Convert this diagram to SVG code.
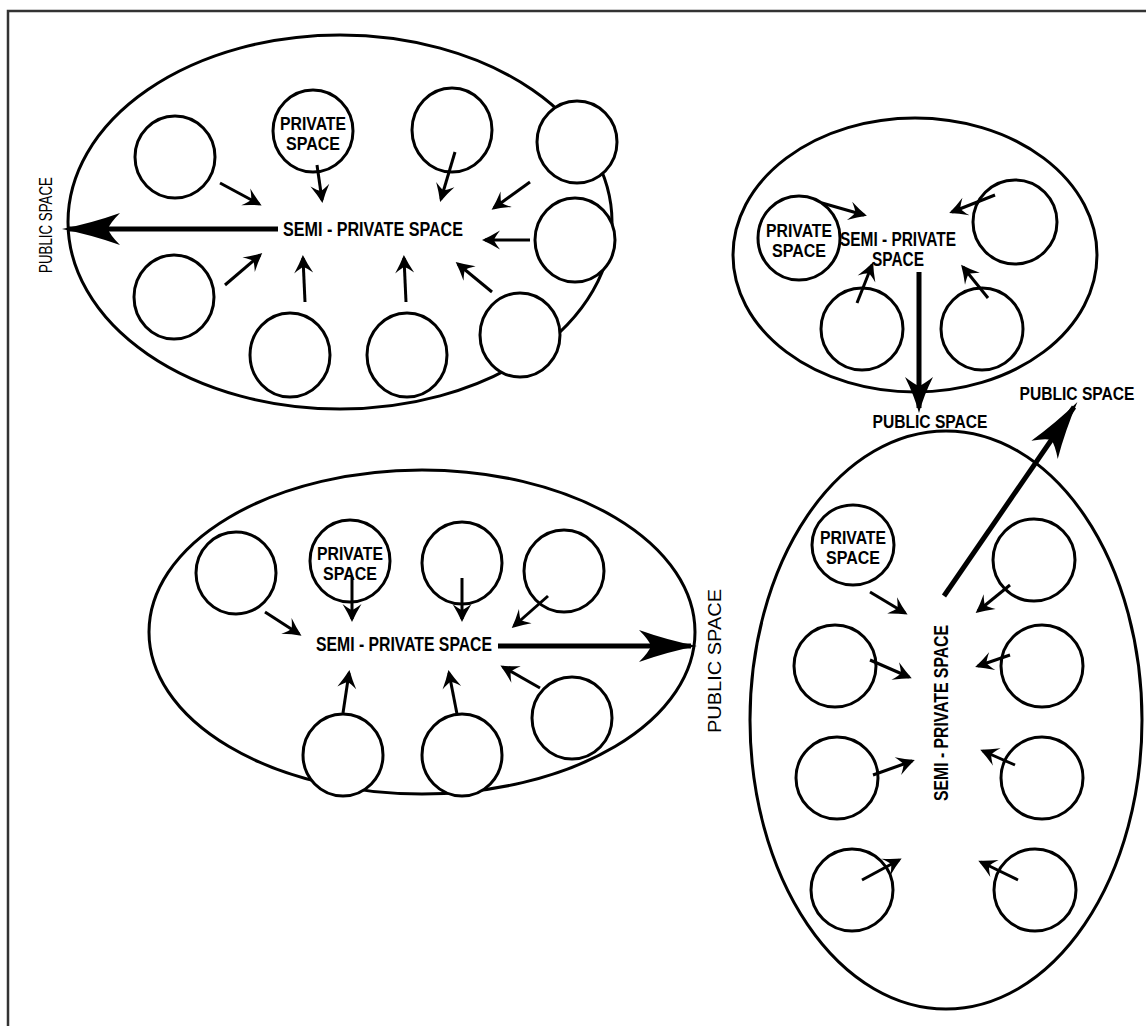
<svg xmlns="http://www.w3.org/2000/svg" width="1146" height="1026" viewBox="0 0 1146 1026">
  <style>
    .zone { fill: none; stroke: #000; stroke-width: 3; }
    .room { fill: #fff; stroke: #000; stroke-width: 3; }
    .flow { fill: none; stroke: #000; stroke-width: 3; marker-end: url(#head); }
    .exit { fill: none; stroke: #000; stroke-width: 5; marker-end: url(#bighead); }
    .exit-m { fill: none; stroke: #000; stroke-width: 5; marker-end: url(#midhead); }
    .lbl { font-family: "Liberation Sans", "DejaVu Sans", sans-serif; font-weight: bold; fill: #000; text-anchor: middle; }
    .pub { font-family: "Liberation Sans", "DejaVu Sans", sans-serif; fill: #000; text-anchor: middle; }
  </style>
  <defs>
    <marker id="head" markerUnits="userSpaceOnUse" viewBox="-20 -10 24 20" refX="-3" refY="0" markerWidth="24" markerHeight="20" orient="auto">
      <path d="M0,0 Q-9,-4 -18,-9.5 Q-13,-3 -12,0 Q-13,3 -18,9.5 Q-9,4 0,0 Z" fill="#000"/>
    </marker>
    <marker id="bighead" markerUnits="userSpaceOnUse" viewBox="-60 -18 64 36" refX="-6" refY="0" markerWidth="64" markerHeight="36" orient="auto">
      <path d="M0,0 Q-30,-6 -58,-16 Q-48,-6 -46,0 Q-48,6 -58,16 Q-30,6 0,0 Z" fill="#000"/>
    </marker>
    <marker id="midhead" markerUnits="userSpaceOnUse" viewBox="-40 -16 44 32" refX="-5" refY="0" markerWidth="44" markerHeight="32" orient="auto">
      <path d="M0,0 Q-18,-5 -36,-14 Q-29,-5 -27,0 Q-29,5 -36,14 Q-18,5 0,0 Z" fill="#000"/>
    </marker>
  </defs>

  <rect width="1146" height="1026" fill="#fff"/>
  <!-- frame: top and left edges only -->
  <path d="M8,1026 V11 H1146" fill="none" stroke="#333" stroke-width="2.5"/>

  <!-- cluster A: horizontal cluster, exit to the left -->
  <g id="cluster-a">
    <ellipse class="zone" cx="340" cy="222" rx="272" ry="187"/>
    <g id="a-private"><ellipse class="room" cx="313" cy="131" rx="40" ry="41"/>
      <text class="lbl" x="313" y="130" font-size="18" textLength="66" lengthAdjust="spacingAndGlyphs">PRIVATE</text>
      <text class="lbl" x="313" y="150" font-size="18" textLength="54" lengthAdjust="spacingAndGlyphs">SPACE</text></g>
    <ellipse id="a-r1" class="room" cx="175" cy="157" rx="40" ry="41"/>
    <ellipse id="a-r2" class="room" cx="452" cy="130" rx="40" ry="42"/>
    <ellipse id="a-r3" class="room" cx="577" cy="142" rx="40" ry="41"/>
    <ellipse id="a-r4" class="room" cx="575" cy="240" rx="40" ry="42"/>
    <ellipse id="a-r5" class="room" cx="174" cy="297" rx="40" ry="42"/>
    <ellipse id="a-r6" class="room" cx="290" cy="355" rx="40" ry="42"/>
    <ellipse id="a-r7" class="room" cx="407" cy="355" rx="40" ry="42"/>
    <ellipse id="a-r8" class="room" cx="520" cy="335" rx="40" ry="42"/>
    <text id="a-semi" class="lbl" x="373" y="236" font-size="21" textLength="180" lengthAdjust="spacingAndGlyphs">SEMI - PRIVATE SPACE</text>
  </g>

  <!-- cluster B: small cluster, exit downward -->
  <g id="cluster-b">
    <ellipse class="zone" cx="915" cy="255" rx="182" ry="137"/>
    <g id="b-private"><ellipse class="room" cx="799" cy="238" rx="41" ry="42"/>
      <text class="lbl" x="799" y="237" font-size="18" textLength="66" lengthAdjust="spacingAndGlyphs">PRIVATE</text>
      <text class="lbl" x="799" y="257" font-size="18" textLength="54" lengthAdjust="spacingAndGlyphs">SPACE</text></g>
    <ellipse id="b-r1" class="room" cx="1015" cy="222" rx="42" ry="42"/>
    <ellipse id="b-r2" class="room" cx="862" cy="329" rx="41" ry="41"/>
    <ellipse id="b-r3" class="room" cx="982" cy="329" rx="41" ry="41"/>
    <text id="b-semi" class="lbl" x="898" y="246" font-size="20" textLength="116" lengthAdjust="spacingAndGlyphs">SEMI - PRIVATE</text>
    <text class="lbl" x="898" y="266" font-size="20" textLength="52" lengthAdjust="spacingAndGlyphs">SPACE</text>
  </g>

  <!-- cluster C: horizontal cluster, exit to the right -->
  <g id="cluster-c">
    <ellipse class="zone" cx="422" cy="632" rx="273" ry="162"/>
    <ellipse id="c-r1" class="room" cx="236" cy="573" rx="40" ry="41"/>
    <g id="c-private"><ellipse class="room" cx="350" cy="561" rx="40" ry="41"/>
      <text class="lbl" x="350" y="560" font-size="18" textLength="66" lengthAdjust="spacingAndGlyphs">PRIVATE</text>
      <text class="lbl" x="350" y="580" font-size="18" textLength="54" lengthAdjust="spacingAndGlyphs">SPACE</text></g>
    <ellipse id="c-r2" class="room" cx="462" cy="563" rx="40" ry="41"/>
    <ellipse id="c-r3" class="room" cx="564" cy="571" rx="40" ry="41"/>
    <ellipse id="c-r4" class="room" cx="343" cy="755" rx="40" ry="41"/>
    <ellipse id="c-r5" class="room" cx="462" cy="755" rx="40" ry="41"/>
    <ellipse id="c-r6" class="room" cx="572" cy="718" rx="40" ry="41"/>
    <text id="c-semi" class="lbl" x="404" y="651" font-size="21" textLength="176" lengthAdjust="spacingAndGlyphs">SEMI - PRIVATE SPACE</text>
  </g>

  <!-- cluster D: vertical cluster, exit up and to the right -->
  <g id="cluster-d">
    <ellipse class="zone" cx="946" cy="720" rx="196" ry="289"/>
    <g id="d-private"><ellipse class="room" cx="853" cy="545" rx="41" ry="40"/>
      <text class="lbl" x="853" y="544" font-size="18" textLength="66" lengthAdjust="spacingAndGlyphs">PRIVATE</text>
      <text class="lbl" x="853" y="564" font-size="18" textLength="54" lengthAdjust="spacingAndGlyphs">SPACE</text></g>
    <ellipse id="d-r1" class="room" cx="1034" cy="560" rx="41" ry="41"/>
    <ellipse id="d-r2" class="room" cx="835" cy="666" rx="41" ry="41"/>
    <ellipse id="d-r3" class="room" cx="1042" cy="666" rx="41" ry="41"/>
    <ellipse id="d-r4" class="room" cx="837" cy="778" rx="41" ry="41"/>
    <ellipse id="d-r5" class="room" cx="1042" cy="778" rx="41" ry="41"/>
    <ellipse id="d-r6" class="room" cx="852" cy="890" rx="41" ry="41"/>
    <ellipse id="d-r7" class="room" cx="1035" cy="890" rx="41" ry="41"/>
    <text id="d-semi" class="lbl" transform="translate(948,713) rotate(-90)" font-size="21" textLength="176" lengthAdjust="spacingAndGlyphs">SEMI - PRIVATE SPACE</text>
  </g>

  <!-- public space labels -->
  <g id="public-labels">
    <text class="pub" transform="translate(52,225) rotate(-90)" font-size="18" textLength="96" lengthAdjust="spacingAndGlyphs">PUBLIC SPACE</text>
    <text class="pub" transform="translate(721,661) rotate(-90)" font-size="18" textLength="144" lengthAdjust="spacingAndGlyphs">PUBLIC SPACE</text>
    <text class="lbl" x="930" y="428" font-size="19" textLength="115" lengthAdjust="spacingAndGlyphs">PUBLIC SPACE</text>
    <text class="lbl" x="1077" y="400" font-size="19" textLength="115" lengthAdjust="spacingAndGlyphs">PUBLIC SPACE</text>
  </g>

  <!-- connectors: rooms into shared space, shared space out to public space -->
  <g id="connectors">
    <line class="flow" x1="220" y1="183" x2="259" y2="204"/>
    <line class="flow" x1="317" y1="165" x2="322" y2="200"/>
    <line class="flow" x1="455" y1="152" x2="441" y2="199"/>
    <line class="flow" x1="530" y1="182" x2="494" y2="208"/>
    <line class="flow" x1="530" y1="240" x2="485" y2="240"/>
    <line class="flow" x1="225" y1="285" x2="260" y2="255"/>
    <line class="flow" x1="305" y1="302" x2="303" y2="258"/>
    <line class="flow" x1="406" y1="302" x2="404" y2="258"/>
    <line class="flow" x1="492" y1="292" x2="458" y2="264"/>
    <line class="exit" x1="278" y1="229" x2="68" y2="229"/>

    <line class="flow" x1="822" y1="203" x2="864" y2="215"/>
    <line class="flow" x1="995" y1="195" x2="952" y2="212"/>
    <line class="flow" x1="857" y1="303" x2="872" y2="265"/>
    <line class="flow" x1="988" y1="298" x2="963" y2="267"/>
    <line class="exit-m" x1="919" y1="272" x2="919" y2="408"/>

    <line class="flow" x1="265" y1="612" x2="299" y2="634"/>
    <line class="flow" x1="352" y1="577" x2="352" y2="619"/>
    <line class="flow" x1="462" y1="578" x2="462" y2="619"/>
    <line class="flow" x1="548" y1="596" x2="514" y2="626"/>
    <line class="flow" x1="343" y1="713" x2="349" y2="673"/>
    <line class="flow" x1="457" y1="714" x2="449" y2="673"/>
    <line class="flow" x1="540" y1="688" x2="503" y2="667"/>
    <line class="exit" x1="498" y1="646" x2="691" y2="646"/>

    <line class="flow" x1="870" y1="592" x2="905" y2="613"/>
    <line class="flow" x1="1010" y1="585" x2="978" y2="611"/>
    <line class="flow" x1="870" y1="660" x2="909" y2="677"/>
    <line class="flow" x1="1010" y1="655" x2="978" y2="666"/>
    <line class="flow" x1="873" y1="775" x2="912" y2="761"/>
    <line class="flow" x1="1015" y1="765" x2="983" y2="751"/>
    <line class="flow" x1="862" y1="880" x2="899" y2="860"/>
    <line class="flow" x1="1018" y1="880" x2="981" y2="862"/>
    <line class="exit" x1="944" y1="596" x2="1074" y2="407"/>
  </g>
</svg>
